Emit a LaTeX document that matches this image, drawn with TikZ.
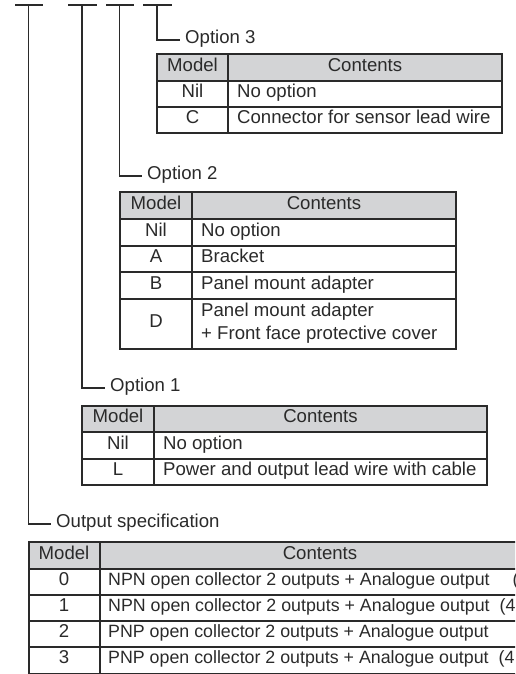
\documentclass[tikz,border=0pt]{standalone}
\usepackage{fontspec}
\setmainfont{Liberation Sans}
\definecolor{ink}{HTML}{2A2A2A}
\definecolor{headgray}{HTML}{D3D4D6}

\begin{document}
\begin{tikzpicture}[x=1pt,y=-1pt,
  font=\fontsize{18.6}{22}\selectfont,
  tree/.style={draw=ink, line width=1.3pt},
  frame/.style={draw=ink, line width=2pt},
  rule/.style={draw=ink, line width=1.4pt},
  lbl/.style={anchor=west, inner xsep=5pt, inner ysep=0pt, text height=0.72em, text depth=0pt, text=ink},
  cc/.style={inner sep=0pt, text height=0.72em, text depth=0pt, text=ink},
  cl/.style={cc, anchor=west},
  wide/.style={cl, font=\fontsize{17.8}{21}\selectfont}]

\useasboundingbox (0,0) rectangle (515,674);
\clip (0,0) rectangle (515,674);

% ---- code digit bars
\draw[tree] (15,5) -- (43,5);
\draw[tree] (68,5) -- (97,5);
\draw[tree] (106,5) -- (134,5);
\draw[tree] (143,5) -- (172,5);
\coordinate (t1) at (28.5,5);
\coordinate (t2) at (82,5);
\coordinate (t3) at (119.5,5);
\coordinate (t4) at (157,5);

% ---- branch labels
\node[lbl] (opt3) at (180,40) {Option 3};
\node[lbl] (opt2) at (142,176) {Option 2};
\node[lbl] (opt1) at (105,388) {Option 1};
\node[lbl] (outs) at (51,524) {Output specification};
\draw[tree] (t4) |- (opt3.west);
\draw[tree] (t3) |- (opt2.west);
\draw[tree] (t2) |- (opt1.west);
\draw[tree] (t1) |- (outs.west);

% ---- Option 3 table
\fill[headgray] (157,54) rectangle (502,81);
\draw[rule] (157,81) -- (502,81) (157,107) -- (502,107) (228,54) -- (228,133);
\draw[frame] (157,54) rectangle (502,133);
\node[cc] (o3hm) at (192.5,67.5) {Model};
\node[cc] (o3hc) at (365,67.5) {Contents};
\node[cc] (o3m1) at (192.5,94) {Nil};
\node[cl] (o3c1) at (237,94) {No option};
\node[cc] (o3m2) at (192.5,120) {C};
\node[cl] (o3c2) at (237,120) {Connector for sensor lead wire};

% ---- Option 2 table
\fill[headgray] (119.5,192) rectangle (456,219);
\draw[rule] (119.5,219) -- (456,219) (119.5,246) -- (456,246)
            (119.5,272) -- (456,272) (119.5,299) -- (456,299)
            (192,192) -- (192,349);
\draw[frame] (119.5,192) rectangle (456,349);
\node[cc] (o2hm) at (156,205.5) {Model};
\node[cc] (o2hc) at (324,205.5) {Contents};
\node[cc] (o2m1) at (156,232.5) {Nil};
\node[cl] (o2c1) at (201,232.5) {No option};
\node[cc] (o2m2) at (156,259) {A};
\node[cl] (o2c2) at (201,259) {Bracket};
\node[cc] (o2m3) at (156,285.5) {B};
\node[cl] (o2c3) at (201,285.5) {Panel mount adapter};
\node[cc] (o2m4) at (156,324) {D};
\node[cl] (o2c4a) at (201,312.5) {Panel mount adapter};
\node[cl] (o2c4b) at (201,336) {+ Front face protective cover};

% ---- Option 1 table
\fill[headgray] (82,406) rectangle (487,432);
\draw[rule] (82,432) -- (487,432) (82,459) -- (487,459) (154,406) -- (154,485);
\draw[frame] (82,406) rectangle (487,485);
\node[cc] (o1hm) at (118,419) {Model};
\node[cc] (o1hc) at (320.5,419) {Contents};
\node[cc] (o1m1) at (118,445.5) {Nil};
\node[cl] (o1c1) at (163,445.5) {No option};
\node[cc] (o1m2) at (118,472) {L};
\node[cl] (o1c2) at (163,472) {Power and output lead wire with cable};

% ---- Output specification table (runs past the right edge)
\fill[headgray] (28.5,542) rectangle (560,569);
\draw[rule] (28.5,569) -- (560,569) (28.5,595) -- (560,595)
            (28.5,621) -- (560,621) (28.5,647) -- (560,647)
            (100,542) -- (100,674);
\draw[frame] (28.5,542) rectangle (560,674);
\node[cc] (ohm) at (64,555.5) {Model};
\node[cc] (ohc) at (320,555.5) {Contents};
\node[cc] (om0) at (64,582) {0};
\node[wide] (oc0) at (108,582) {NPN open collector 2 outputs + Analogue output\hspace{23pt}(};
\node[cc] (om1) at (64,608) {1};
\node[wide] (oc1) at (108,608) {NPN open collector 2 outputs + Analogue output\hspace{10pt}(4};
\node[cc] (om2) at (64,634) {2};
\node[wide] (oc2) at (108,634) {PNP open collector 2 outputs + Analogue output};
\node[cc] (om3) at (64,660) {3};
\node[wide] (oc3) at (108,660) {PNP open collector 2 outputs + Analogue output\hspace{10pt}(4};
\end{tikzpicture}
\end{document}
